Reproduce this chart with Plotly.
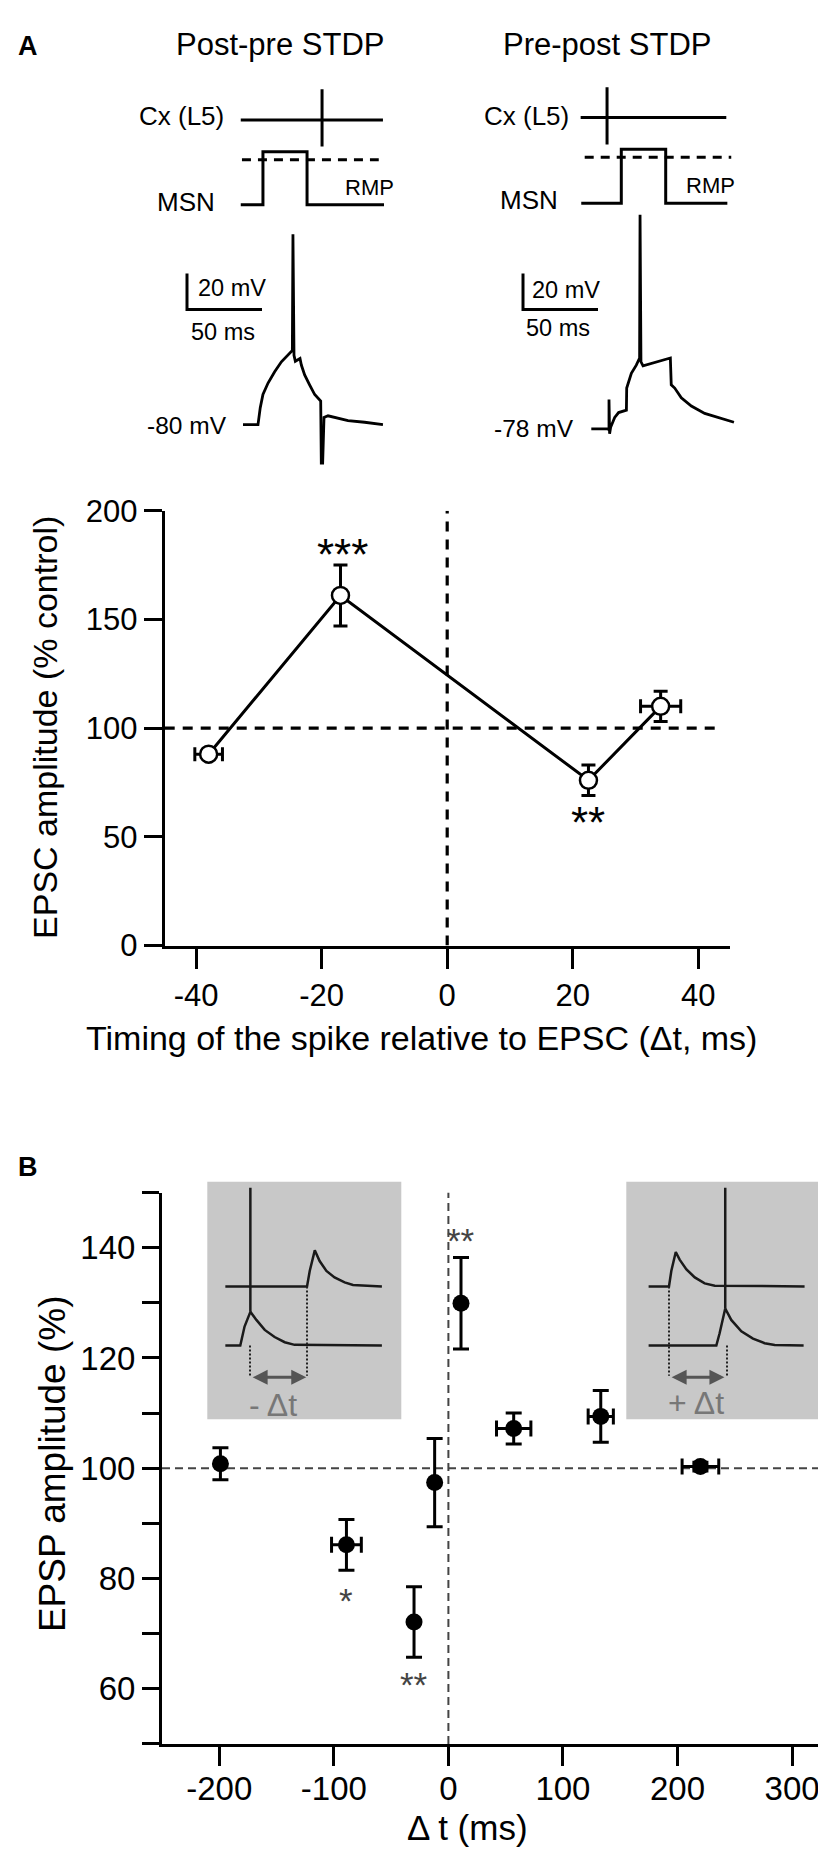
import plotly.graph_objects as go

W, H = 826, 1853
FONT = "Liberation Sans, Arial, sans-serif"

# ---------------- panel A : EPSC amplitude vs spike timing ----------------
a_dt = [-38, -17, 22.5, 34]
a_dt_err = [2.2, 0, 0, 3.2]
a_amp = [88, 161, 76, 110]
a_amp_err = [2, 14, 7, 7]
a_xticks = [-40, -20, 0, 20, 40]
a_yticks = [0, 50, 100, 150, 200]

# ---------------- panel B : EPSP amplitude vs delta t ----------------
b_dt = [-199, -89, -30, -12, 11, 57, 133, 220]
b_dt_err = [0, 13, 0, 0, 0, 15, 11, 16]
b_amp = [100.8, 86.1, 72.1, 97.4, 129.9, 107.2, 109.4, 100.3]
b_amp_err = [2.9, 4.6, 6.4, 8.0, 8.3, 2.8, 4.7, 0.8]
b_xticks = [-200, -100, 0, 100, 200, 300]
b_yticks = [50, 60, 70, 80, 90, 100, 110, 120, 130, 140, 150]
b_ylabels = ["", "60", "", "80", "", "100", "", "120", "", "140", ""]

# ---------------- stimulation protocols (time in ms, level: RMP=0, pulse=1) ----------------
pp_cx_t = [-1.5, 93.3]
pp_cx_lvl = [1.6, 1.6]
pp_spike_t = [52.7, 52.7]
pp_spike_lvl = [1.10, 2.18]
pp_msn_t = [-1.5, 13.3, 13.3, 42.7, 42.7, 94]
pp_msn_lvl = [0, 0, 1, 1, 0, 0]
pp_thr_t = [-0.7, 90.5]
pp_thr_lvl = [0.85, 0.85]

pre_cx_t = [-7.1, 90]
pre_cx_lvl = [1.59, 1.59]
pre_spike_t = [10.5, 10.5]
pre_spike_lvl = [1.09, 2.15]
pre_msn_t = [-6.7, 20, 20, 49.6, 49.6, 90.7]
pre_msn_lvl = [0, 0, 1, 1, 0, 0]
pre_thr_t = [-4.4, 93.3]
pre_thr_lvl = [0.855, 0.855]

# ---------------- example MSN recordings (ms, mV) ----------------
pp_vm_t = [0, 10, 11.5, 13.3, 16.7, 21.1, 25.6, 30.0, 32.9, 33.3, 34.0, 34.9, 38.0, 38.9,
           41.1, 44.4, 47.8, 51.8, 52.2, 53.1, 54.0, 56.7, 61.1, 70.0, 81.1, 93.3]
pp_vm_v = [-80, -80, -70.6, -63.3, -56.9, -50.6, -45.1, -41.5, -38.8, 25.7, -41.5, -44.8, -43.3, -46.9,
           -52.4, -57.9, -63.3, -66.9, -101.4, -101.4, -76.0, -75.1, -76.0, -77.8, -78.7, -80]

pre_vm_t = [0, 11.1, 11.8, 11.8, 12.2, 12.9, 15.6, 18.2, 21.1, 23.4, 23.6, 25.1, 26.7, 30.0,
            32.2, 32.5, 33.1, 34.5, 52.7, 53.3, 55.6, 60.0, 66.7, 75.6, 84.4, 95.1]
pre_vm_v = [-78, -78, -78.5, -61.6, -80.7, -77.1, -71.6, -68.9, -68.0, -67.6, -55.3, -51.6, -47.1, -42.6,
            -38.6, 41.0, -40.7, -43.0, -38.6, -53.5, -55.3, -60.7, -65.3, -69.4, -71.6, -74.3]

SCALE_MS = 50
SCALE_MV = 20

# ---------------- inset schematics (0-100 box units) ----------------
neg_top_u = [9.3, 51.4, 52.8, 55.4, 57.9, 61.4, 65.6, 70.8, 75.1, 90.0]
neg_top_v = [55.9, 55.9, 62.4, 71.1, 66.6, 62.4, 59.7, 57.6, 56.5, 55.9]
neg_bot_u = [9.3, 17.0, 19.2, 22.2, 25.3, 29.6, 34.7, 39.9, 45.0, 90.0]
neg_bot_v = [31.0, 31.0, 39.0, 45.2, 41.8, 37.6, 34.6, 32.4, 31.3, 31.0]
neg_spike_u = [22.2, 22.2]
neg_spike_v = [45.2, 97.5]

pos_top_u = [11.5, 22.0, 23.2, 25.5, 27.5, 31.0, 35.3, 40.4, 45.6, 91.9]
pos_top_v = [55.9, 55.9, 62.4, 70.4, 67.2, 63.1, 59.7, 57.2, 56.2, 55.9]
pos_bot_u = [11.5, 46.4, 48.1, 51.0, 54.1, 59.3, 65.3, 71.3, 76.5, 91.4]
pos_bot_v = [31.0, 31.0, 36.2, 46.6, 41.8, 37.0, 33.9, 32.0, 31.2, 31.0]
pos_spike_u = [51.0, 51.0]
pos_spike_v = [46.6, 97.5]


def fx(p):
    return p / W


def fy(p):
    return 1 - p / H


fig = go.Figure()

# ---- panel A main plot
fig.add_trace(go.Scatter(
    x=a_dt, y=a_amp, mode="lines+markers", xaxis="x", yaxis="y",
    line=dict(color="black", width=3),
    marker=dict(size=17, color="white", line=dict(color="black", width=2.5)),
    error_y=dict(type="data", array=a_amp_err, color="black", thickness=3, width=7),
    error_x=dict(type="data", array=a_dt_err, color="black", thickness=3, width=7),
    showlegend=False))

# ---- panel B main plot
fig.add_trace(go.Scatter(
    x=b_dt, y=b_amp, mode="markers", xaxis="x2", yaxis="y2",
    marker=dict(size=17, color="black"),
    error_y=dict(type="data", array=b_amp_err, color="black", thickness=3, width=8),
    error_x=dict(type="data", array=b_dt_err, color="black", thickness=3, width=8),
    showlegend=False))

# ---- stimulation protocols
for xa, ya, cxt, cxl, st, sl, mt, ml, tt, tl in [
        ("x3", "y3", pp_cx_t, pp_cx_lvl, pp_spike_t, pp_spike_lvl, pp_msn_t, pp_msn_lvl, pp_thr_t, pp_thr_lvl),
        ("x5", "y5", pre_cx_t, pre_cx_lvl, pre_spike_t, pre_spike_lvl, pre_msn_t, pre_msn_lvl, pre_thr_t, pre_thr_lvl)]:
    fig.add_trace(go.Scatter(x=cxt, y=cxl, mode="lines", xaxis=xa, yaxis=ya,
                             line=dict(color="black", width=3), showlegend=False))
    fig.add_trace(go.Scatter(x=st, y=sl, mode="lines", xaxis=xa, yaxis=ya,
                             line=dict(color="black", width=3), showlegend=False))
    fig.add_trace(go.Scatter(x=mt, y=ml, mode="lines", xaxis=xa, yaxis=ya,
                             line=dict(color="black", width=3), showlegend=False))
    fig.add_trace(go.Scatter(x=tt, y=tl, mode="lines", xaxis=xa, yaxis=ya,
                             line=dict(color="black", width=3, dash="9px,7px"), showlegend=False))

# ---- voltage recordings + scale bars
for xa, ya, vt, vv, t0, v0 in [("x4", "y4", pp_vm_t, pp_vm_v, -37.33, -16.08),
                                ("x6", "y6", pre_vm_t, pre_vm_v, -45.53, -11.68)]:
    fig.add_trace(go.Scatter(x=vt, y=vv, mode="lines", xaxis=xa, yaxis=ya,
                             line=dict(color="black", width=2.8), showlegend=False))
    fig.add_trace(go.Scatter(x=[t0, t0, t0 + SCALE_MS], y=[v0 + SCALE_MV, v0, v0], mode="lines",
                             xaxis=xa, yaxis=ya, line=dict(color="black", width=3), showlegend=False))

# ---- inset schematics
for xa, ya, tu, tv, bu, bv, su, sv in [
        ("x7", "y7", neg_top_u, neg_top_v, neg_bot_u, neg_bot_v, neg_spike_u, neg_spike_v),
        ("x8", "y8", pos_top_u, pos_top_v, pos_bot_u, pos_bot_v, pos_spike_u, pos_spike_v)]:
    for u, v in [(tu, tv), (bu, bv), (su, sv)]:
        fig.add_trace(go.Scatter(x=u, y=v, mode="lines", xaxis=xa, yaxis=ya,
                                 line=dict(color="#1a1a1a", width=2.5), showlegend=False))

# dotted timing guides in insets
guides = [("x7", "y7", 22.0, 31.0), ("x7", "y7", 51.4, 55.9),
          ("x8", "y8", 22.0, 55.9), ("x8", "y8", 51.9, 31.0)]
for xa, ya, u, v in guides:
    fig.add_trace(go.Scatter(x=[u, u], y=[v, 18.3], mode="lines", xaxis=xa, yaxis=ya,
                             line=dict(color="#222", width=2, dash="2px,2px"), showlegend=False))

shapes = [
    # gray boxes behind insets
    dict(type="rect", xref="x7 domain", yref="y7 domain", x0=0, x1=1, y0=0, y1=1,
         fillcolor="#c8c8c8", line=dict(width=0), layer="below"),
    dict(type="rect", xref="x8 domain", yref="y8 domain", x0=0, x1=1, y0=0, y1=1,
         fillcolor="#c8c8c8", line=dict(width=0), layer="below"),
    # panel A reference lines
    dict(type="line", xref="x", yref="y", x0=-45, x1=43.7, y0=100, y1=100,
         line=dict(color="black", width=3.2, dash="10px,8px"), layer="below"),
    dict(type="line", xref="x", yref="y", x0=0, x1=0, y0=0, y1=200,
         line=dict(color="black", width=3.2, dash="10px,8px"), layer="below"),
    # panel B reference lines
    dict(type="line", xref="x2", yref="y2", x0=-250, x1=336.6, y0=100, y1=100,
         line=dict(color="#444", width=2, dash="8px,5px"), layer="below"),
    dict(type="line", xref="x2", yref="y2", x0=0, x1=0, y0=50, y1=150,
         line=dict(color="#444", width=2, dash="8px,5px"), layer="below"),
]

tf = dict(family=FONT, color="black")
ann = []


def text(t, x, y, size, xanchor="center", yanchor="middle", color="black", angle=0, bold=False,
         xref="paper", yref="paper"):
    ann.append(dict(text="<b>%s</b>" % t if bold else t, x=x, y=y, xref=xref, yref=yref,
                    xanchor=xanchor, yanchor=yanchor, showarrow=False, textangle=angle,
                    font=dict(family=FONT, size=size, color=color)))


text("A", fx(8), fy(21), 27, xanchor="left", bold=True)
text("B", fx(8), fy(1164), 27, xanchor="left", bold=True)
text("Post-pre STDP", fx(271.7), fy(20), 31)
text("Pre-post STDP", fx(599), fy(20), 31)
text("Cx (L5)", fx(218.3), fy(93), 26, xanchor="right")
text("MSN", fx(209.3), fy(180), 26, xanchor="right")
text("RMP", fx(361), fy(166), 22)
text("Cx (L5)", fx(563.3), fy(93), 26, xanchor="right")
text("MSN", fx(551.7), fy(178), 26, xanchor="right")
text("RMP", fx(702.5), fy(164), 22)

text("20 mV", -31.5, -4.25, 23.5, xanchor="left", xref="x4", yref="y4")
text("50 ms", -13.3, -28.8, 23.5, xref="x4", yref="y4")
text("-80 mV", -9.5, -80.5, 24.5, xanchor="right", xref="x4", yref="y4")
text("20 mV", -41.1, -0.8, 23.5, xanchor="left", xref="x6", yref="y6")
text("50 ms", -22.2, -22.2, 23.5, xref="x6", yref="y6")
text("-78 mV", -10, -77.5, 24.5, xanchor="right", xref="x6", yref="y6")

text("EPSC amplitude (% control)", fx(37.5), fy(716), 34, angle=-90)
text("Timing of the spike relative to EPSC (\u0394t, ms)", fx(413.5), fy(1033), 34)
text("***", -16.6, 179.7, 44, xref="x", yref="y")
text("**", 22.5, 56.5, 44, xref="x", yref="y")

text("EPSP amplitude (%)", fx(44.8), fy(1466), 37, angle=-90)
text("\u0394 t (ms)", fx(459), fy(1837), 35)
text("**", 11, 141.3, 35, color="#444", xref="x2", yref="y2")
text("*", -89, 76.0, 35, color="#444", xref="x2", yref="y2")
text("**", -30, 60.7, 35, color="#444", xref="x2", yref="y2")

text("- \u0394t", 33.9, 5.9, 32, color="#777", xref="x7", yref="y7")
text("+ \u0394t", 36.1, 6.6, 32, color="#777", xref="x8", yref="y8")

# double-headed timing arrows in insets
for xa, ya, u0, u1 in [("x7", "y7", 22.6, 51.0), ("x8", "y8", 22.6, 50.6)]:
    ann.append(dict(x=u1, y=17.6, ax=u0, ay=17.6, xref=xa, yref=ya, axref=xa, ayref=ya,
                    text="", showarrow=True, arrowhead=2, arrowside="end+start",
                    arrowsize=1, arrowwidth=3, arrowcolor="#555", standoff=0, startstandoff=0))


def hidden(domain, rng, anchor):
    return dict(domain=domain, range=rng, visible=False, fixedrange=True, anchor=anchor,
                showgrid=False, zeroline=False)


axis_common = dict(showline=True, linecolor="black", linewidth=3, ticks="outside",
                   tickcolor="black", tickwidth=3, showgrid=False, zeroline=False,
                   fixedrange=True)

# plain hyphen for negative tick labels, as in the original figure
a_xlabels = [str(v) for v in a_xticks]
b_xlabels = [str(v) for v in b_xticks]

fig.update_layout(
    width=W, height=H,
    margin=dict(l=0, r=0, t=0, b=0),
    paper_bgcolor="white", plot_bgcolor="rgba(0,0,0,0)",
    font=tf,
    xaxis=dict(domain=[fx(156.7), fx(721.7)], range=[-45, 45], anchor="y",
               tickvals=a_xticks, ticktext=a_xlabels, ticklen=20,
               tickfont=dict(family=FONT, size=31), **axis_common),
    yaxis=dict(domain=[fy(938.3), fy(495)], range=[0, 200], anchor="x",
               tickvals=a_yticks, ticklen=18, tickfont=dict(family=FONT, size=31),
               **axis_common),
    xaxis2=dict(domain=[fx(154), 1.0], range=[-250, 336.6], anchor="y2",
                tickvals=b_xticks, ticktext=b_xlabels, ticklen=19, ticklabelstandoff=-6,
                tickfont=dict(family=FONT, size=33), **axis_common),
    yaxis2=dict(domain=[fy(1752), fy(1190)], range=[50, 150], anchor="x2",
                tickvals=b_yticks, ticktext=b_ylabels, ticklen=17,
                tickfont=dict(family=FONT, size=33), **axis_common),
    xaxis3=hidden([fx(170), fx(390)], [-43.33, 103.33], "y3"),
    yaxis3=hidden([fy(195), fy(55)], [-0.2167, 2.3759], "x3"),
    xaxis4=hidden([fx(170), fx(390)], [-43.33, 103.33], "y4"),
    yaxis4=hidden([fy(460), fy(200)], [-108.72, 32.97], "x4"),
    xaxis5=hidden([fx(510), fx(740)], [-48.87, 104.47], "y5"),
    yaxis5=hidden([fy(193), fy(53)], [-0.2055, 2.34], "x5"),
    xaxis6=hidden([fx(510), fx(740)], [-48.87, 104.47], "y6"),
    yaxis6=hidden([fy(460), fy(180)], [-104.32, 48.27], "x6"),
    xaxis7=hidden([fx(199.3), fx(393.3)], [0, 100], "y7"),
    yaxis7=hidden([fy(1421), fy(1179)], [0, 100], "x7"),
    xaxis8=hidden([fx(618.3), fx(812.3)], [0, 100], "y8"),
    yaxis8=hidden([fy(1421), fy(1179)], [0, 100], "x8"),
    shapes=shapes,
    annotations=ann,
)

fig.write_html("out.html")
